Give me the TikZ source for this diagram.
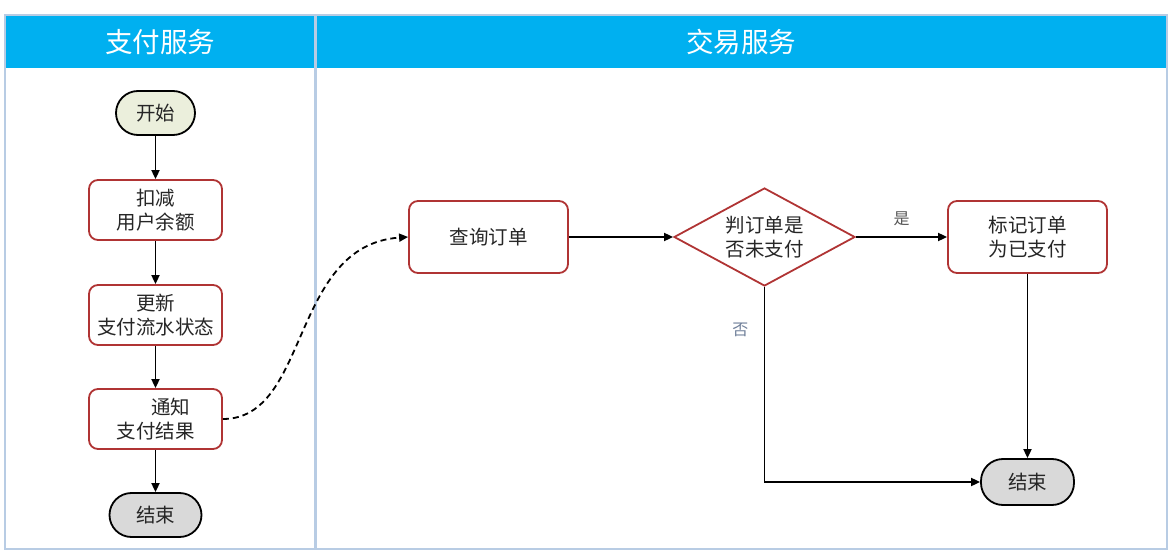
\documentclass[tikz,border=0pt]{standalone}
\usepackage{fontspec}
\setmainfont{Noto Sans CJK SC}
\usetikzlibrary{arrows.meta,shapes.geometric}
\definecolor{hdr}{HTML}{00B0F0}
\definecolor{lane}{HTML}{B8CCE4}
\definecolor{boxred}{HTML}{B03434}
\definecolor{startfill}{HTML}{EBEFDC}
\definecolor{endfill}{HTML}{D9D9D9}
\definecolor{lblno}{HTML}{6F7F99}
\definecolor{lblyes}{HTML}{555555}
\tikzset{
  x=1pt,y=-1pt,
  txt/.style={font=\fontsize{19.5}{24}\selectfont, text=black!85, align=center},
  procbox/.style={txt, draw=boxred, line width=1.8pt, rounded corners=9pt, fill=white, inner sep=0pt},
  termbox/.style={txt, draw=black, line width=1.8pt, rounded corners=22pt, inner sep=0pt},
  decbox/.style={txt, draw=boxred, line width=1.8pt, diamond, aspect=1.85, inner sep=0pt, minimum width=181pt, minimum height=98pt},
  flow/.style={line width=1.8pt, -{Triangle[length=9pt,width=8pt]}},
  hdrtxt/.style={font=\fontsize{27.5}{32}\selectfont, text=white},
  lbl/.style={font=\fontsize{16}{18}\selectfont}
}
\begin{document}
\begin{tikzpicture}
\useasboundingbox (0,0) rectangle (1173,556);
% lanes
\fill[hdr] (5,15) rectangle (1167,68);
\draw[lane, line width=2pt] (5,15) rectangle (1167,549);
\draw[lane, line width=3pt] (315,15) -- (315,549);
\node[hdrtxt] (h1) at (160,42) {支付服务};
\node[hdrtxt] (h2) at (741,42) {交易服务};
% left lane nodes
\node[termbox, fill=startfill, minimum width=79pt, minimum height=44pt] (start) at (155.5,113) {开始};
\node[procbox, minimum width=133pt, minimum height=60pt] (deduct) at (155.5,210) {扣减\\用户余额};
\node[procbox, minimum width=133pt, minimum height=60pt] (update) at (155.5,315) {更新\\支付流水状态};
\node[procbox, minimum width=133pt, minimum height=60pt] (notify) at (155.5,419) {\hspace*{30pt}通知\\支付结果};
\node[termbox, fill=endfill, minimum width=92pt, minimum height=44pt] (end1) at (155.5,515) {结束};
% right lane nodes
\node[procbox, minimum width=159pt, minimum height=72pt] (query) at (488.5,237) {查询订单};
\node[decbox] (check) at (764.5,237) {判订单是\\否未支付};
\node[procbox, minimum width=159pt, minimum height=72pt] (mark) at (1027.5,237) {标记订单\\为已支付};
\node[termbox, fill=endfill, minimum width=93pt, minimum height=46pt] (end2) at (1027.5,482) {结束};
% connectors
\draw[flow] (start) -- (deduct);
\draw[flow] (deduct) -- (update);
\draw[flow] (update) -- (notify);
\draw[flow] (notify) -- (end1);
\draw[line width=1.8pt, dash pattern=on 6pt off 4pt, -{Triangle[length=9pt,width=8pt]}] (notify.east) .. controls (310,419) and (290,245) .. (query.west);
\draw[flow] (query) -- (check);
\draw[flow] (check.east) -- node[lbl, text=lblyes, above=7pt] (yes) {是} (mark.west);
\coordinate (corner) at (check.south |- end2.west);
\draw[flow] (check.south) -- node[lbl, text=lblno, pos=0.22, left=12pt] (no) {否} (corner) -- (end2.west);
\draw[flow] (mark) -- (end2);
\end{tikzpicture}
\end{document}
